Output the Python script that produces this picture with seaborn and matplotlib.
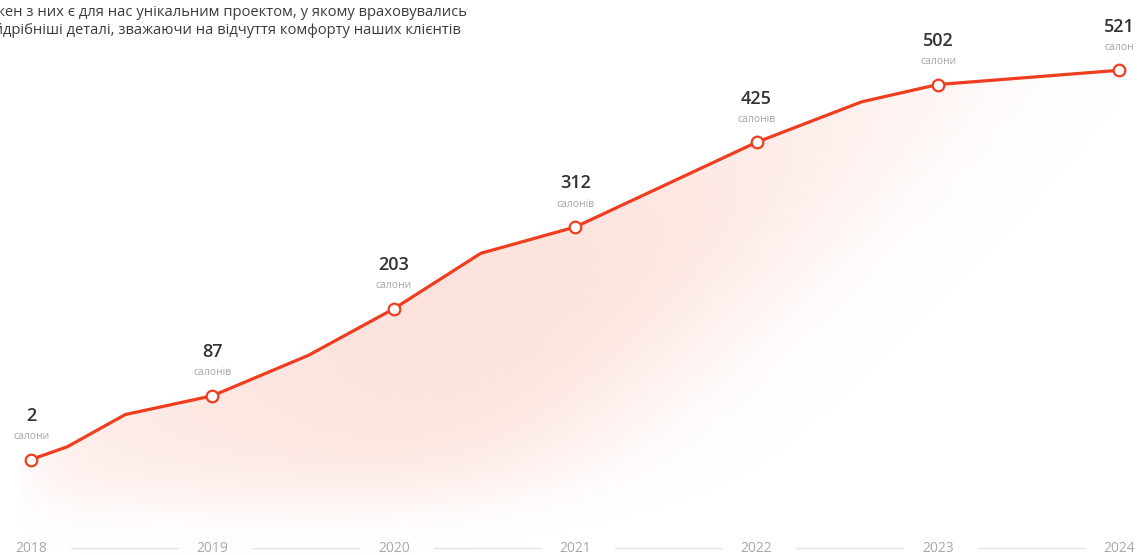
import numpy as np
import pandas as pd
import seaborn as sns
import matplotlib.pyplot as plt
from matplotlib.path import Path
from matplotlib.patches import PathPatch

# Number of salons opened by the end of each year
years = [2018, 2019, 2020, 2021, 2022, 2023, 2024]
salons = [2, 87, 203, 312, 425, 502, 521]
units = ["салони", "салонів", "салони", "салонів", "салонів", "салони", "салон"]

# Growth path including mid-year checkpoints
path_years = [2018, 2018.2, 2018.52, 2019, 2019.53, 2020, 2020.48, 2021,
              2022, 2022.58, 2023, 2024]
path_salons = [2, 19, 62, 87, 141, 203, 277, 312, 425, 479, 502, 521]

year_labels = ["2018", "2019", "2020", "2021", "2022", "2023", "2024"]

intro_lines = [
    "Кожен з них є для нас унікальним проектом, у якому враховувались",
    "найдрібніші деталі, зважаючи на відчуття комфорту наших клієнтів",
]

sns.set_theme(style="white")
plt.rcParams["font.family"] = ["Open Sans", "DejaVu Sans"]

W, H = 1140, 555
fig = plt.figure(figsize=(W / 100, H / 100), dpi=100)
fig.patch.set_facecolor("white")
ax = fig.add_axes([0, 0, 1, 1])
ax.set_facecolor("white")

XMIN, XMAX = 2017.829, 2024.114
YMIN, YMAX = -125.3, 614.7
ax.set_xlim(XMIN, XMAX)
ax.set_ylim(YMIN, YMAX)
ax.axis("off")

LINE = "#EE3D1F"


def sigmoid(t):
    return 1.0 / (1.0 + np.exp(-t))


# Soft glow under the growth path, fading toward the bottom and lower right
jj, ii = np.meshgrid(np.arange(W), np.arange(H))
s_diag = (jj - 550) * 0.669 + (ii - 540) * 0.743
fade_diag = sigmoid(-(s_diag + 60) / 40)
fade_bottom = sigmoid(-(ii - 498) / 18)
fade_left = sigmoid((jj - 35) / 18)
core = np.exp(-0.5 * (((jj - 560) / 520) ** 2 + ((ii - 340) / 260) ** 2))
glow = fade_diag * fade_bottom * fade_left * core
rgba = np.zeros((H, W, 4))
rgba[..., 0] = 243 / 255
rgba[..., 1] = 106 / 255
rgba[..., 2] = 76 / 255
rgba[..., 3] = 0.2 * glow
im = ax.imshow(rgba, extent=(XMIN, XMAX, YMIN, YMAX), origin="upper",
               aspect="auto", zorder=1, interpolation="bilinear")
verts = list(zip(path_years, path_salons)) + [(2024, YMIN), (2017.95, YMIN), (2017.95, 2)]
clip = PathPatch(Path(verts), transform=ax.transData, facecolor="none", edgecolor="none")
ax.add_patch(clip)
im.set_clip_path(clip)

# Growth line and yearly markers
df_path = pd.DataFrame({"year": path_years, "salons": path_salons})
df_years = pd.DataFrame({"year": years, "salons": salons})
sns.lineplot(data=df_path, x="year", y="salons", ax=ax, color=LINE,
             linewidth=2.3, sort=False, zorder=3)
sns.scatterplot(data=df_years, x="year", y="salons", ax=ax, s=70,
                facecolor="white", edgecolor=LINE, linewidth=1.6, zorder=4)

for yr, val, unit in zip(years, salons, units):
    ax.annotate(f"{val}", (yr, val), xytext=(0, 31.5), textcoords="offset points",
                ha="center", va="center", fontsize=13, fontweight="semibold",
                color="#333333", zorder=5)
    ax.annotate(unit, (yr, val), xytext=(0, 16.5), textcoords="offset points",
                ha="center", va="center", fontsize=7.5, color="#a6a6a6", zorder=5)

# Year scale along the bottom
y_axis_row = -116
for k, lab in enumerate(year_labels):
    ax.text(years[k], y_axis_row, lab, ha="center", va="center",
            fontsize=10, color="#a8a8a8", zorder=5)
    if k < len(year_labels) - 1:
        ax.plot([years[k] + 0.22, years[k] + 0.81], [y_axis_row, y_axis_row],
                color="#e4e4e4", linewidth=1, zorder=2)

# Intro paragraph in the top-left corner
for k, line in enumerate(intro_lines):
    fig.text(-24 / W, 1 - (12 + 19 * k) / H, line, ha="left", va="center",
             fontsize=10.6, color="#3c3c3c")

fig.savefig("out.png", dpi=100, facecolor="white")
